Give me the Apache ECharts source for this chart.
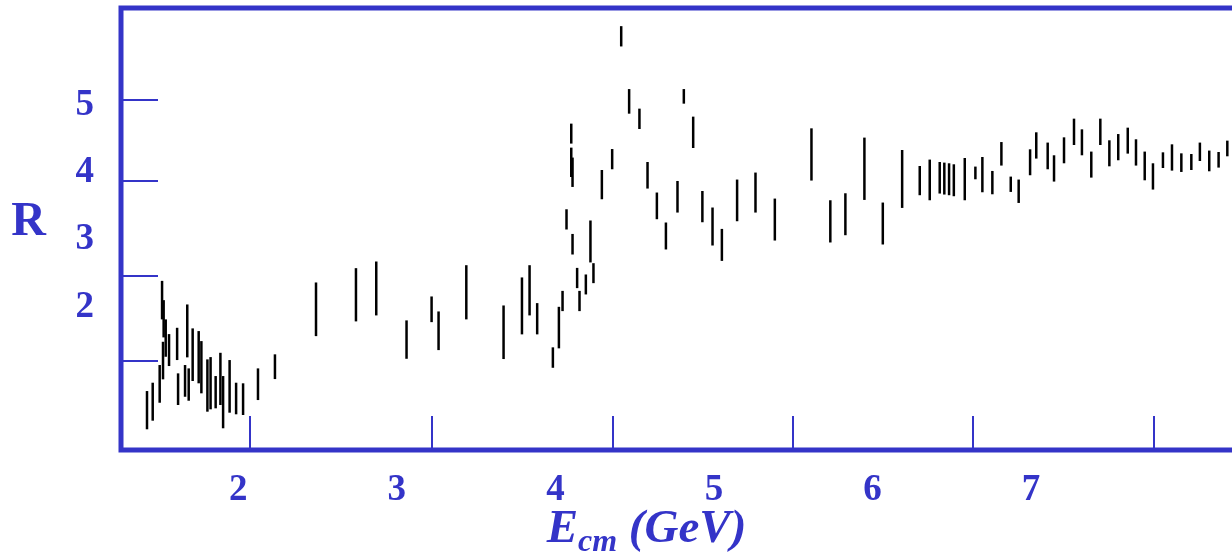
<!DOCTYPE html>
<html>
<head>
<meta charset="utf-8">
<script src="https://cdn.jsdelivr.net/npm/echarts/dist/echarts.min.js"></script>
<style>
html, body { margin: 0; padding: 0; background: #fff; }
#main { width: 1232px; height: 557px; }
</style>
</head>
<body>
<div id="main"></div>
<script>
// centre-of-mass energy (GeV) of each measurement
var energy = [
  1.424, 1.460, 1.504, 1.519, 1.525, 1.529, 1.542, 1.563, 1.614, 1.620, 1.664, 1.678, 1.687,
  1.712, 1.750, 1.767, 1.805, 1.825, 1.857, 1.887, 1.904, 1.945, 1.986, 2.030, 2.124, 2.231,
  2.490, 2.742, 2.870, 3.061, 3.219, 3.263, 3.438, 3.673, 3.789, 3.837, 3.885, 3.984, 4.022,
  4.045, 4.070, 4.100, 4.100, 4.108, 4.108, 4.137, 4.152, 4.192, 4.221, 4.240, 4.293, 4.358,
  4.415, 4.465, 4.530, 4.581, 4.640, 4.697, 4.770, 4.810, 4.869,
  4.927, 4.991, 5.050, 5.146, 5.262, 5.384, 5.615, 5.734, 5.829, 5.949, 6.065,
  6.187, 6.298, 6.361, 6.424, 6.453, 6.483, 6.513, 6.582, 6.649, 6.693, 6.756, 6.813, 6.872,
  6.922, 6.994, 7.033, 7.105, 7.145, 7.208,
  7.271, 7.321, 7.380, 7.437, 7.494, 7.550, 7.610, 7.662, 7.717, 7.769, 7.832, 7.889, 7.948,
  8.011, 8.065, 8.124, 8.183, 8.238
];
// upper end of each error bar
var rHigh = [
  0.752, 0.876, 1.139, 2.391, 1.485, 2.104, 1.818, 1.599, 1.693, 1.015, 1.139, 2.040, 1.089,
  1.684, 1.644, 1.495, 1.223, 1.257, 0.975, 1.321, 0.975, 1.213, 0.876, 0.867, 1.089, 1.298,
  2.367, 2.580, 2.679, 1.803, 2.159, 1.936, 2.624, 2.025, 2.442, 2.624, 2.060, 1.402, 2.005,
  2.242, 3.456, 4.730, 4.373, 4.225, 3.089, 2.584, 2.242, 2.486, 3.289, 2.654, 4.040, 4.352,
  6.180, 5.244, 4.953, 4.159, 3.705, 3.259, 3.877, 5.244, 4.834,
  3.728, 3.482, 3.164, 3.898, 4.002, 3.615, 4.660, 3.590, 3.694, 4.522, 3.556,
  4.338, 4.100, 4.195, 4.159, 4.150, 4.140, 4.125, 4.219, 4.091, 4.234, 4.026, 4.456, 3.942,
  3.898, 4.348, 4.601, 4.448, 4.259, 4.526,
  4.804, 4.645, 4.314, 4.804, 4.482, 4.575, 4.670, 4.497, 4.314, 4.140, 4.303, 4.422, 4.288,
  4.278, 4.448, 4.329, 4.308, 4.477
];
// lower end of each error bar
var rLow = [
  0.183, 0.311, 0.578, 1.818, 0.926, 1.550, 1.262, 1.124, 1.213, 0.544, 0.667, 1.253, 0.608,
  0.901, 0.867, 0.718, 0.445, 0.480, 0.495, 0.544, 0.198, 0.430, 0.406, 0.396, 0.618, 0.930,
  1.569, 1.788, 1.877, 1.232, 1.777, 1.361, 1.818, 1.228, 1.595, 1.877, 1.595, 1.098, 1.387,
  1.941, 3.155, 4.433, 3.936, 3.788, 2.783, 2.283, 1.941, 2.189, 2.665, 2.357, 3.605, 4.051,
  5.878, 4.878, 4.650, 3.764, 3.308, 2.858, 3.407, 5.027, 4.367,
  3.263, 2.917, 2.688, 3.278, 3.407, 2.991, 3.883, 2.962, 3.070, 3.595, 2.932,
  3.476, 3.665, 3.590, 3.690, 3.675, 3.665, 3.650, 3.590, 3.902, 3.709, 3.679, 4.106, 3.714,
  3.550, 3.962, 4.210, 4.051, 3.868, 4.140,
  4.412, 4.259, 3.927, 4.412, 4.095, 4.185, 4.284, 4.106, 3.887, 3.749, 4.070, 4.031, 4.011,
  4.040, 4.174, 4.021, 4.076, 4.244
];

// labels and tick marks do not line up in the original figure
var xLabels = [2, 3, 4, 5, 6, 7];
var xTicks = [2.071, 3.219, 4.361, 5.496, 6.634, 7.772];
var yLabels = [2, 3, 4, 5];
var yTicks = [1.208, 2.471, 3.883, 5.091];

var blue = "#3434c8";
var serif = "'Liberation Serif', 'DejaVu Serif', serif";

var barData = [];
for (var i = 0; i < energy.length; i++) {
  barData.push([energy[i], rLow[i], rHigh[i]]);
}

var myChart = echarts.init(document.getElementById("main"));
var option = {
  animation: false,
  grid: {
    show: true,
    outerBoundsMode: "none",
    containLabel: false,
    left: 121,
    right: -21,
    top: 8,
    bottom: 107,
    borderColor: blue,
    borderWidth: 5
  },
  xAxis: {
    type: "value",
    min: 1.26,
    max: 8.4,
    splitLine: { show: false },
    axisLine: { show: false, onZero: false },
    axisTick: {
      show: true,
      inside: true,
      length: 34,
      customValues: xTicks,
      lineStyle: { color: blue, width: 2 }
    },
    axisLabel: {
      customValues: xLabels,
      margin: 22,
      color: blue,
      fontSize: 37,
      fontWeight: "bold",
      fontFamily: serif
    },
    name: "{e|E}{s|cm}{e| (GeV)}",
    nameLocation: "middle",
    nameMoveOverlap: false,
    nameGap: 55,
    nameTextStyle: {
      padding: [0, 81, 0, 0],
      rich: {
        e: {
          color: blue,
          fontSize: 47,
          fontWeight: "bold",
          fontStyle: "italic",
          fontFamily: serif,
          lineHeight: 50
        },
        s: {
          color: blue,
          fontSize: 32,
          fontWeight: "bold",
          fontStyle: "italic",
          fontFamily: serif,
          lineHeight: 32,
          padding: [26, 0, 0, 0]
        }
      }
    }
  },
  yAxis: {
    type: "value",
    min: -0.125,
    max: 6.45,
    splitLine: { show: false },
    axisLine: { show: false, onZero: false },
    axisTick: {
      show: true,
      inside: true,
      length: 37,
      customValues: yTicks,
      lineStyle: { color: blue, width: 2 }
    },
    axisLabel: {
      customValues: yLabels,
      margin: 27,
      color: blue,
      fontSize: 37,
      fontWeight: "bold",
      fontFamily: serif
    },
    name: "R",
    nameLocation: "middle",
    nameMoveOverlap: false,
    nameRotate: 0,
    nameGap: 75,
    nameTextStyle: {
      color: blue,
      fontSize: 48,
      fontWeight: "bold",
      fontFamily: serif,
      verticalAlign: "bottom",
      lineHeight: 12
    }
  },
  series: [
    {
      type: "custom",
      data: barData,
      encode: { x: 0, y: [1, 2] },
      renderItem: function(params, api) {
        var p1 = api.coord([api.value(0), api.value(1)]);
        var p2 = api.coord([api.value(0), api.value(2)]);
        return {
          type: "line",
          shape: { x1: p1[0], y1: p1[1], x2: p2[0], y2: p2[1] },
          style: { stroke: "#000", lineWidth: 2.5 }
        };
      }
    }
  ]
};
myChart.setOption(option);
</script>
</body>
</html>
